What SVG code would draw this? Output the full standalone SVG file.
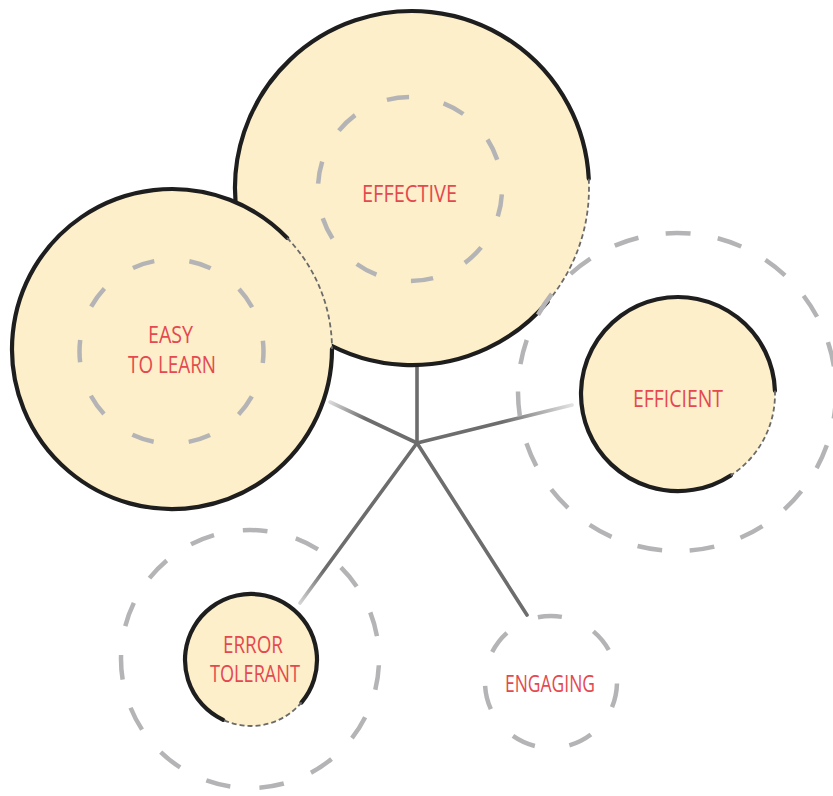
<svg xmlns="http://www.w3.org/2000/svg" width="833" height="796" viewBox="0 0 833 796">
  <style>
    .fill { fill: #fcefc9; stroke: none; }
    .rim { fill: none; stroke: #1e1e1e; stroke-width: 4.2; stroke-linecap: round; }
    .rim-soft { fill: none; stroke: #6a6a6a; stroke-width: 1.8; stroke-dasharray: 5 3; }
    .ring { fill: none; stroke: #b4b4b6; stroke-width: 4.5; }
    .label { font-family: "Open Sans", "Noto Sans", "Liberation Sans", sans-serif; font-size: 23px; fill: #e5484f; }
    .link { fill: none; stroke-width: 3.6; stroke-linecap: round; }
  </style>
  <defs>
    <linearGradient id="fade-easy" gradientUnits="userSpaceOnUse" x1="417" y1="443" x2="330" y2="402">
      <stop offset="0" stop-color="#6d6d6d"/>
      <stop offset="0.6" stop-color="#6d6d6d"/>
      <stop offset="1" stop-color="#6d6d6d" stop-opacity="0.25"/>
    </linearGradient>
    <linearGradient id="fade-efficient" gradientUnits="userSpaceOnUse" x1="417" y1="443" x2="572" y2="405">
      <stop offset="0" stop-color="#6d6d6d"/>
      <stop offset="0.55" stop-color="#6d6d6d"/>
      <stop offset="1" stop-color="#6d6d6d" stop-opacity="0.2"/>
    </linearGradient>
    <linearGradient id="fade-error" gradientUnits="userSpaceOnUse" x1="417" y1="443" x2="300" y2="603">
      <stop offset="0" stop-color="#6d6d6d"/>
      <stop offset="0.8" stop-color="#6d6d6d"/>
      <stop offset="1" stop-color="#6d6d6d" stop-opacity="0.3"/>
    </linearGradient>
  </defs>

  <!-- spokes from the hub to each quality -->
  <g id="connectors">
    <line class="link" stroke="#6d6d6d" x1="417" y1="443" x2="417" y2="366"/>
    <line class="link" stroke="url(#fade-easy)" x1="417" y1="443" x2="330" y2="402"/>
    <line class="link" stroke="url(#fade-efficient)" x1="417" y1="443" x2="572" y2="405"/>
    <line class="link" stroke="url(#fade-error)" x1="417" y1="443" x2="300" y2="603"/>
    <line class="link" stroke="#6d6d6d" x1="417" y1="443" x2="527" y2="615"/>
  </g>

  <g id="node-effective">
    <circle class="fill" cx="412" cy="188" r="177"/>
    <path class="rim" d="M 547.6 301.8 A 177 177 0 1 1 588.76 178.74"/>
    <path class="rim-soft" d="M 588.76 178.74 A 177 177 0 0 1 547.6 301.8"/>
    <circle class="ring" cx="410" cy="189" r="92" pathLength="360" stroke-dasharray="14 22" stroke-dashoffset="-3.4"/>
    <text class="label" x="362" y="202" textLength="95" lengthAdjust="spacingAndGlyphs">EFFECTIVE</text>
  </g>

  <g id="node-easy">
    <circle class="fill" cx="172" cy="349" r="160"/>
    <path class="rim" d="M 332 349 A 160 160 0 1 1 287.1 237.9"/>
    <path class="rim-soft" d="M 287.1 237.9 A 160 160 0 0 1 332 349"/>
    <circle class="ring" cx="171.5" cy="351.5" r="92" pathLength="360" stroke-dasharray="14 22" stroke-dashoffset="6.8"/>
    <text class="label" x="148" y="343" textLength="45" lengthAdjust="spacingAndGlyphs">EASY</text>
    <text class="label" x="128" y="373" textLength="88" lengthAdjust="spacingAndGlyphs">TO LEARN</text>
  </g>

  <g id="node-efficient">
    <circle class="ring" cx="677" cy="392" r="159" pathLength="360" stroke-dasharray="9 9.947" stroke-dashoffset="-0.64"/>
    <circle class="fill" cx="678" cy="394" r="97"/>
    <path class="rim" d="M 730.8 475.4 A 97 97 0 1 1 774.94 390.61"/>
    <path class="rim-soft" d="M 774.94 390.61 A 97 97 0 0 1 730.8 475.4"/>
    <text class="label" x="633" y="407" textLength="90" lengthAdjust="spacingAndGlyphs">EFFICIENT</text>
  </g>

  <g id="node-error-tolerant">
    <circle class="ring" cx="250" cy="659" r="129" pathLength="360" stroke-dasharray="11 13" stroke-dashoffset="-2.8"/>
    <circle class="fill" cx="251" cy="660" r="66"/>
    <path class="rim" d="M 223.1 719.8 A 66 66 0 1 1 301.56 702.42"/>
    <path class="rim-soft" d="M 301.56 702.42 A 66 66 0 0 1 223.1 719.8"/>
    <text class="label" x="223" y="653" textLength="60" lengthAdjust="spacingAndGlyphs">ERROR</text>
    <text class="label" x="210" y="682" textLength="90" lengthAdjust="spacingAndGlyphs">TOLERANT</text>
  </g>

  <g id="node-engaging">
    <circle class="ring" cx="551" cy="682" r="66" pathLength="360" stroke-dasharray="21 30.43" stroke-dashoffset="-1.36"/>
    <text class="label" x="505" y="692" textLength="90" lengthAdjust="spacingAndGlyphs">ENGAGING</text>
  </g>
</svg>
